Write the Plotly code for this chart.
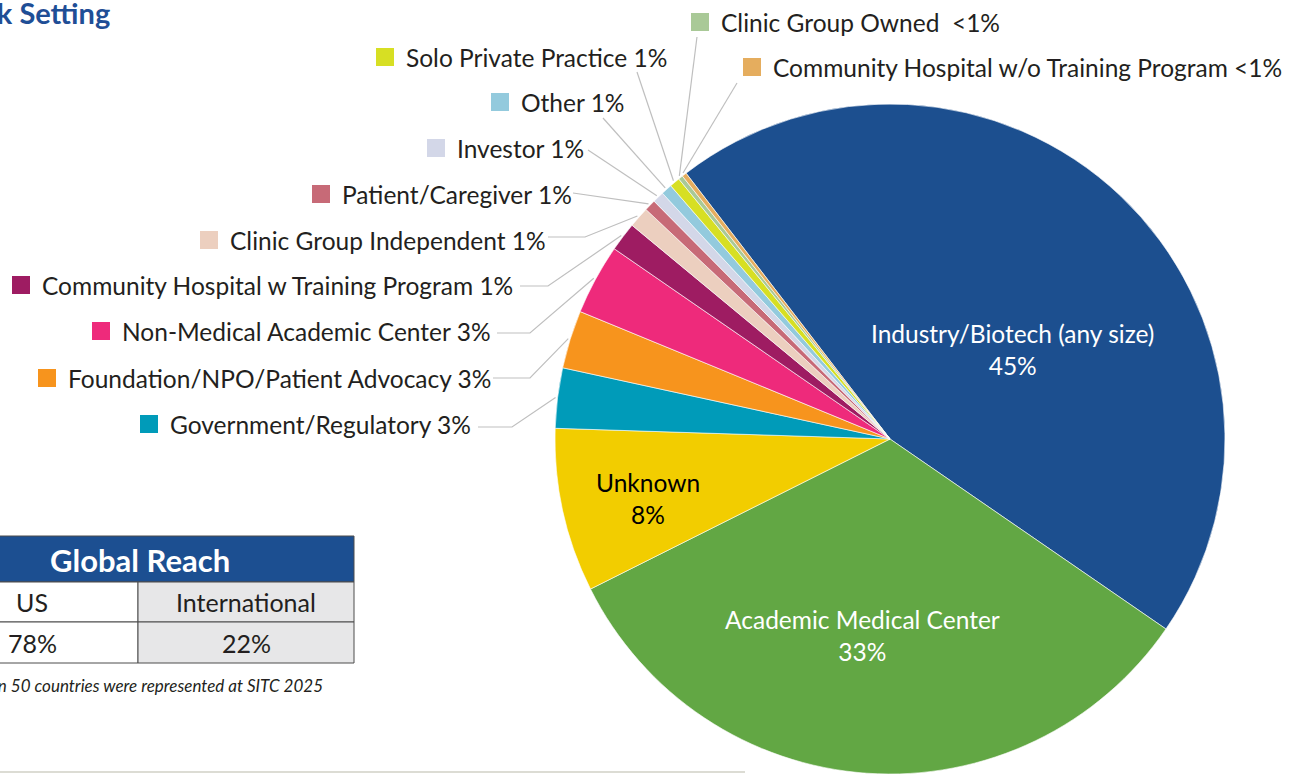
import math
import plotly.graph_objects as go

# ---------------- data ----------------
categories = [
    "Industry/Biotech (any size)", "Academic Medical Center", "Unknown",
    "Government/Regulatory", "Foundation/NPO/Patient Advocacy", "Non-Medical Academic Center",
    "Community Hospital w Training Program", "Clinic Group Independent", "Patient/Caregiver",
    "Investor", "Other", "Solo Private Practice", "Clinic Group Owned",
    "Community Hospital w/o Training Program",
]
shares = [45.0, 33.0, 7.9, 2.9, 2.8, 3.4, 1.4, 1.0, 0.55, 0.55, 0.53, 0.5, 0.22, 0.22]
pct_labels = ["45%", "33%", "8%", "3%", "3%", "3%", "1%", "1%", "1%", "1%", "1%", "1%", "<1%", "<1%"]
colors = ["#1c4f8f", "#62a744", "#f2cd00", "#009bb9", "#f7941d", "#ee2a7b", "#9e1c62",
          "#eccfbf", "#c76a77", "#d3d7e8", "#93cadd", "#d7df23", "#a9c997", "#e5ad5e"]

regions = ["US", "International"]
region_shares = ["78%", "22%"]
table_title = "Global Reach"
footnote = "Attendees from more than 50 countries were represented at SITC 2025"
title = "Attendee Work Setting"

# ---------------- layout constants (pixels) ----------------
W, H = 1297, 774
CX, R = 890, 335
CY = H - R
ROTATION = -37.5
FONT = "Lato"
TXT = "#231f20"
LABEL_SIZE = 24.5

# outside labels: index -> (text_left, y_center, line_start, elbow_x)
outside = {
    3: (168, 424, (478, 427), 512),
    4: (66, 378, (493, 378), 530),
    5: (120, 331, (497, 333), 530),
    6: (40, 285, (520, 286), 548),
    7: (228, 240, (548, 237), 585),
    8: (340, 194, (573, 193), None),
    9: (455, 148, (588, 150), None),
    10: (519, 102, (603, 118), None),
    11: (404, 57, (637, 72), None),
    12: (719, 22, (697, 37), None),
    13: (771, 67, (737, 83), None),
}
# inside labels: index -> (angle offset deg, radial fraction, text colour)
inside = {0: (10.4, 0.453, "white"), 1: (4.0, 0.591, "white"), 2: (-1.4, 0.743, "black")}

total = sum(shares)
mids = []
acc = ROTATION
for v in shares:
    span = 360.0 * v / total
    mids.append(acc + span / 2)
    acc += span


def polar(angle_deg, r):
    a = math.radians(angle_deg)
    return CX + r * math.sin(a), CY - r * math.cos(a)


fig = go.Figure()
fig.add_trace(go.Pie(
    labels=categories, values=shares, sort=False, direction="clockwise", rotation=ROTATION,
    marker=dict(colors=colors, line=dict(color="white", width=0.6)),
    textinfo="none", hoverinfo="label+percent", showlegend=False,
    domain=dict(x=[(CX - R) / W, (CX + R) / W], y=[0, 2 * R / H]),
))

annotations = []
shapes = []

# leader lines, swatches and outside labels
for i, (tx, ty, start, elbow) in outside.items():
    ex, ey = polar(mids[i], R + 2)
    xs, ys = [start[0]], [start[1]]
    if elbow is not None:
        xs.append(elbow)
        ys.append(start[1])
    xs.append(ex)
    ys.append(ey)
    fig.add_trace(go.Scatter(x=xs, y=ys, mode="lines", line=dict(color="#bfbfbf", width=1.2),
                             hoverinfo="skip", showlegend=False))
    fig.add_trace(go.Scatter(x=[tx - 19], y=[ty], mode="markers",
                             marker=dict(symbol="square", size=18, color=colors[i]),
                             hoverinfo="skip", showlegend=False))
    sep = "  " if i == 12 else " "
    annotations.append(dict(x=tx, y=ty, xref="x", yref="y", xanchor="left", yanchor="middle",
                            text=categories[i] + sep + pct_labels[i], showarrow=False,
                            font=dict(family=FONT, size=LABEL_SIZE, color=TXT)))

# inside labels
for i, (off, frac, col) in inside.items():
    x, y = polar(mids[i] + off, frac * R)
    annotations.append(dict(x=x, y=y, xref="x", yref="y", xanchor="center", yanchor="middle",
                            text=categories[i] + "<br>" + pct_labels[i], showarrow=False,
                            font=dict(family=FONT, size=LABEL_SIZE, color=col)))

# title (partly cropped on the left, as in the source)
annotations.append(dict(x=112 / W, y=1 - 13 / H, xref="paper", yref="paper", xanchor="right",
                        yanchor="middle", text="<b>" + title + "</b>", showarrow=False,
                        font=dict(family=FONT, size=29, color="#1f4e96")))

# table (left edge cropped)
TL, TM, TR = -74, 138, 354
ROWS = [536, 582, 622, 663]
shapes.append(dict(type="rect", xref="x", yref="y", x0=TL, x1=TR, y0=ROWS[0], y1=ROWS[1],
                   fillcolor="#1c4f91", line=dict(color="#4d4d4d", width=1)))
for r in range(2):
    shapes.append(dict(type="rect", xref="x", yref="y", x0=TL, x1=TM, y0=ROWS[r + 1], y1=ROWS[r + 2],
                       fillcolor="white", line=dict(color="#4d4d4d", width=1)))
    shapes.append(dict(type="rect", xref="x", yref="y", x0=TM, x1=TR, y0=ROWS[r + 1], y1=ROWS[r + 2],
                       fillcolor="#e7e7e8", line=dict(color="#4d4d4d", width=1)))
annotations.append(dict(x=(TL + TR) / 2, y=(ROWS[0] + ROWS[1]) / 2 + 1, xref="x", yref="y",
                        text="<b>" + table_title + "</b>", showarrow=False,
                        font=dict(family=FONT, size=31, color="white")))
for j, (reg, val) in enumerate(zip(regions, region_shares)):
    cxm = (TL + TM) / 2 if j == 0 else (TM + TR) / 2
    annotations.append(dict(x=cxm, y=(ROWS[1] + ROWS[2]) / 2, xref="x", yref="y", text=reg,
                            showarrow=False, font=dict(family=FONT, size=25, color=TXT)))
    annotations.append(dict(x=cxm, y=(ROWS[2] + ROWS[3]) / 2, xref="x", yref="y", text=val,
                            showarrow=False, font=dict(family=FONT, size=25, color=TXT)))

annotations.append(dict(x=325 / W, y=1 - 685 / H, xref="paper", yref="paper", xanchor="right",
                        yanchor="middle", text="<i>" + footnote + "</i>", showarrow=False,
                        font=dict(family=FONT, size=17, color=TXT)))

# faint bottom rule
shapes.append(dict(type="line", xref="x", yref="y", x0=0, x1=745, y0=772, y1=772,
                   line=dict(color="#dcdcd4", width=2)))

fig.update_layout(
    width=W, height=H, margin=dict(l=0, r=0, t=0, b=0),
    paper_bgcolor="white", plot_bgcolor="rgba(0,0,0,0)",
    xaxis=dict(range=[0, W], visible=False, fixedrange=True),
    yaxis=dict(range=[H, 0], visible=False, fixedrange=True),
    annotations=annotations, shapes=shapes, showlegend=False,
)
fig.write_html("out.html")
